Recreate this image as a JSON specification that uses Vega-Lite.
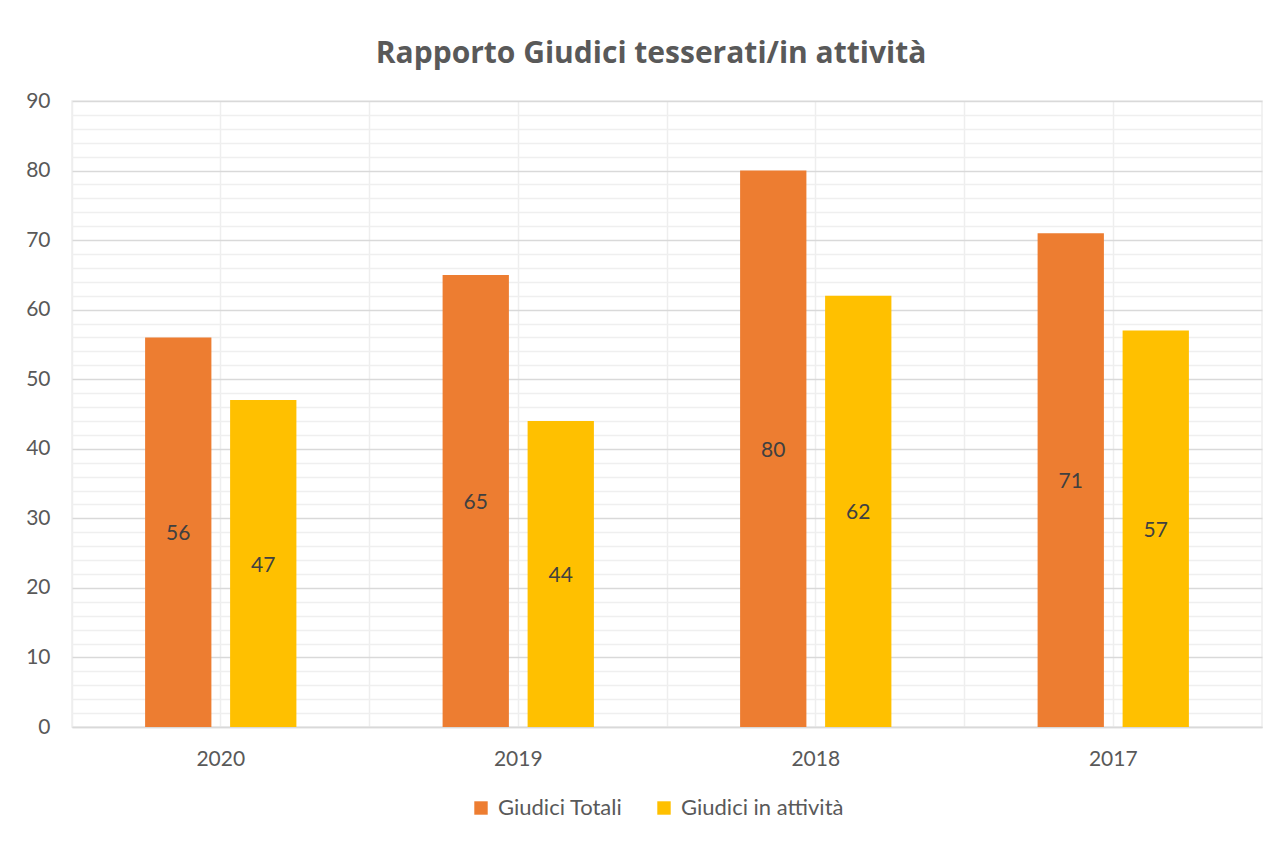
{
  "$schema": "https://vega.github.io/schema/vega-lite/v6.json",
  "width": 1190,
  "height": 626,
  "autosize": {"type": "none"},
  "padding": {"left": 72, "top": 101, "right": 22, "bottom": 116},
  "background": "white",
  "title": {
    "text": "Rapporto Giudici tesserati/in attività",
    "font": "Open Sans",
    "fontSize": 30,
    "fontWeight": "bold",
    "color": "#595959",
    "anchor": "middle",
    "offset": 21,
    "dx": -16
  },
  "data": {
    "values": [
      {"anno": "2020", "serie": "Giudici Totali", "valore": 56},
      {"anno": "2020", "serie": "Giudici in attività", "valore": 47},
      {"anno": "2019", "serie": "Giudici Totali", "valore": 65},
      {"anno": "2019", "serie": "Giudici in attività", "valore": 44},
      {"anno": "2018", "serie": "Giudici Totali", "valore": 80},
      {"anno": "2018", "serie": "Giudici in attività", "valore": 62},
      {"anno": "2017", "serie": "Giudici Totali", "valore": 71},
      {"anno": "2017", "serie": "Giudici in attività", "valore": 57}
    ]
  },
  "layer": [
    {
      "mark": {"type": "bar"},
      "encoding": {
        "x": {
          "field": "anno", "type": "nominal", "sort": null,
          "scale": {"paddingInner": 0, "paddingOuter": 0},
          "axis": {
            "title": null, "orient": "bottom", "bandPosition": 0.5,
            "grid": true, "gridColor": "#eeeeee", "gridWidth": 1.5,
            "ticks": false, "domain": true, "domainColor": "#d9d9d9", "domainWidth": 1.5,
            "labelFont": "Lato", "labelFontSize": 21, "labelColor": "#595959",
            "labelPadding": 21, "labelAngle": 0
          }
        },
        "xOffset": {
          "field": "serie", "type": "nominal",
          "sort": ["Giudici Totali", "Giudici in attività"],
          "scale": {"paddingInner": 0.22, "paddingOuter": 0.86}
        },
        "y": {
          "field": "valore", "type": "quantitative",
          "scale": {"domain": [0, 90], "nice": false},
          "axis": {
            "title": null,
            "values": [0,2,4,6,8,10,12,14,16,18,20,22,24,26,28,30,32,34,36,38,40,42,44,46,48,50,52,54,56,58,60,62,64,66,68,70,72,74,76,78,80,82,84,86,88,90],
            "labelExpr": "datum.value % 10 === 0 ? datum.label : ''",
            "labelOverlap": false,
            "grid": true,
            "gridColor": {"condition": {"test": "datum.value % 10 === 0", "value": "#d9d9d9"}, "value": "#efefef"},
            "gridWidth": 1.5,
            "ticks": false, "tickSize": 0, "domain": false,
            "labelFont": "Lato", "labelFontSize": 21, "labelColor": "#595959",
            "labelPadding": 22
          }
        },
        "color": {
          "field": "serie", "type": "nominal",
          "sort": ["Giudici Totali", "Giudici in attività"],
          "scale": {"domain": ["Giudici Totali", "Giudici in attività"], "range": ["#ED7D31", "#FFC000"]},
          "legend": {
            "title": null, "orient": "none", "direction": "horizontal",
            "legendX": 398, "legendY": 696,
            "symbolType": "square", "symbolSize": 180, "symbolStrokeWidth": 0,
            "labelFont": "Lato", "labelFontSize": 22, "labelColor": "#595959",
            "labelLimit": 400,
            "labelOffset": 6, "columnPadding": 30
          }
        }
      }
    },
    {
      "transform": [{"calculate": "datum.valore / 2", "as": "posizione_etichetta"}],
      "mark": {"type": "text", "font": "Lato", "fontSize": 21, "color": "#404040", "baseline": "middle", "align": "center", "dy": 2},
      "encoding": {
        "x": {
          "field": "anno", "type": "nominal", "sort": null,
          "axis": {
            "title": null, "orient": "top", "bandPosition": 0,
            "grid": true, "gridColor": "#eeeeee", "gridWidth": 1.5,
            "labels": false, "ticks": false, "domain": false
          }
        },
        "xOffset": {"field": "serie", "type": "nominal", "sort": ["Giudici Totali", "Giudici in attività"]},
        "y": {
          "field": "posizione_etichetta", "type": "quantitative",
          "axis": {
            "title": null,
            "values": [0,2,4,6,8,10,12,14,16,18,20,22,24,26,28,30,32,34,36,38,40,42,44,46,48,50,52,54,56,58,60,62,64,66,68,70,72,74,76,78,80,82,84,86,88,90],
            "labelExpr": "datum.value % 10 === 0 ? datum.label : ''",
            "labelOverlap": false,
            "grid": true,
            "gridColor": {"condition": {"test": "datum.value % 10 === 0", "value": "#d9d9d9"}, "value": "#efefef"},
            "gridWidth": 1.5,
            "ticks": false, "tickSize": 0, "domain": false,
            "labelFont": "Lato", "labelFontSize": 21, "labelColor": "#595959",
            "labelPadding": 22
          }
        },
        "text": {"field": "valore", "type": "quantitative"}
      }
    }
  ],
  "resolve": {"axis": {"x": "independent"}},
  "config": {
    "view": {"stroke": "#eeeeee", "strokeWidth": 1.5}
  }
}
